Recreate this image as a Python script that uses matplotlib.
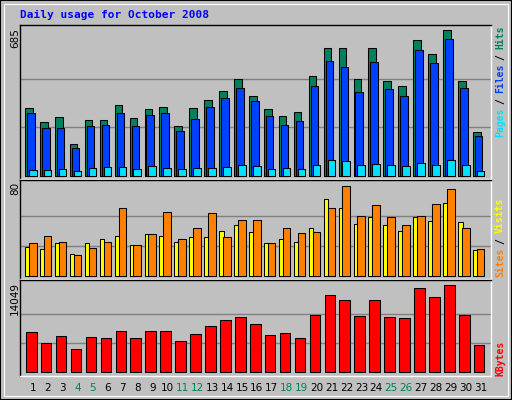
import numpy as np
import matplotlib.pyplot as plt
from matplotlib.patches import Rectangle

days = list(range(1, 32))
weekend = [4, 5, 11, 12, 18, 19, 25, 26]

hits = [318, 253, 276, 150, 262, 262, 332, 271, 313, 322, 234, 318, 355, 397, 453, 374,
        313, 281, 299, 467, 601, 601, 453, 601, 448, 420, 639, 574, 685, 448, 206]
files = [295, 225, 225, 132, 234, 239, 295, 234, 285, 295, 211, 267, 322, 364, 415, 350,
         281, 239, 257, 420, 541, 513, 392, 536, 406, 374, 592, 532, 643, 415, 188]
pages = [29, 29, 34, 25, 39, 43, 43, 34, 48, 39, 34, 39, 39, 43, 53, 48,
         34, 39, 34, 53, 76, 71, 53, 57, 53, 48, 62, 53, 76, 53, 25]
sites = [26, 24, 29, 20, 29, 33, 36, 28, 37, 36, 30, 35, 35, 40, 45, 39,
         29, 33, 30, 43, 68, 60, 46, 52, 45, 40, 52, 49, 65, 48, 23]
visits = [29, 36, 30, 19, 25, 30, 60, 28, 37, 57, 33, 43, 56, 35, 50, 50,
          29, 43, 38, 39, 60, 80, 53, 63, 52, 45, 53, 64, 77, 43, 24]
kbytes = [6490, 4630, 5870, 3710, 5720, 5410, 6640, 5560, 6640, 6640, 4940, 6180, 7410, 8340,
          8810, 7720, 6030, 6330, 5560, 9270, 12510, 11590, 9110, 11590, 8960, 8650, 13590,
          12050, 14049, 9270, 4330]

W, H = 512, 400
BG = '#C0C0C0'
fig = plt.figure(figsize=(W / 100, H / 100), dpi=100, facecolor=BG)
fig.patches.append(Rectangle((0, 0), 1, 1, transform=fig.transFigure, fill=False,
                             edgecolor='black', linewidth=1.5))
fig.patches.append(Rectangle((4 / W, 4 / H), (W - 8) / W, (H - 8) / H, transform=fig.transFigure,
                             fill=False, edgecolor='white', linewidth=0.8))

x = np.array(days)
lw = 0.75
font = 'DejaVu Sans Mono'


def panel(top, bottom, vmax, pad_top, pad_bot):
    ax = fig.add_axes([20 / W, 1 - bottom / H, 471 / W, (bottom - top) / H])
    ax.set_facecolor(BG)
    s = vmax / (bottom - top - pad_top - pad_bot)
    ax.set_ylim(-pad_bot * s, vmax + pad_top * s)
    ax.set_xlim(0.13, 31.68)
    for g in (vmax / 3, 2 * vmax / 3):
        ax.axhline(g, color='#808080', linewidth=1, zorder=0)
    ax.set_xticks([])
    ax.set_yticks([])
    for sp in ax.spines.values():
        sp.set_color('black')
        sp.set_linewidth(1)
    ax.spines['right'].set_color('white')
    ax.spines['bottom'].set_color('white')
    return ax


ax1 = panel(25, 179, 685, 5, 3)
ax1.bar(x - 0.53, hits, width=0.51, align='edge', color='#00805C', edgecolor='black', linewidth=lw)
ax1.bar(x - 0.40, files, width=0.51, align='edge', color='#0040FF', edgecolor='black', linewidth=lw)
ax1.bar(x - 0.27, pages, width=0.51, align='edge', color='#00E0FF', edgecolor='black', linewidth=lw)

ax2 = panel(180, 279, 80, 6, 3)
ax2.bar(x - 0.53, sites, width=0.31, align='edge', color='#FFFF00', edgecolor='black', linewidth=lw)
ax2.bar(x - 0.27, visits, width=0.51, align='edge', color='#FF8000', edgecolor='black', linewidth=lw)

ax3 = panel(280, 376, 14049, 5, 4)
ax3.bar(x - 0.47, kbytes, width=0.71, align='edge', color='#FF0000', edgecolor='black', linewidth=lw)

for d in days:
    ax3.text(d, -0.13, str(d), transform=ax3.get_xaxis_transform(), ha='center', va='center',
             fontsize=7.5, family='DejaVu Sans', color='#00805C' if d in weekend else 'black')

fig.text(20 / W, 1 - 15 / H, 'Daily usage for October 2008', color='#0000FF', fontsize=8,
         family=font, weight='bold', va='center')

for label, ytop in (('685', 28), ('80', 182), ('14049', 282)):
    fig.text(15 / W, 1 - ytop / H, label, rotation=90, fontsize=7.5, family='DejaVu Sans',
             ha='center', va='top')


def side_label(pieces, ybottom, step=5.5):
    n = 0
    for txt, col in pieces:
        fig.text(500 / W, 1 - (ybottom - n * step) / H, txt, rotation=90, color=col,
                 fontsize=7, family=font, weight='bold', ha='center', va='bottom')
        n += len(txt) + 1


side_label([('Pages', '#00E0FF'), ('/', 'black'), ('Files', '#0040FF'), ('/', 'black'),
            ('Hits', '#00805C')], 137)
side_label([('Sites', '#FF8000'), ('/', 'black'), ('Visits', '#FFFF00')], 277)
side_label([('KBytes', '#FF0000')], 376)

fig.savefig('out.png', dpi=100, facecolor=BG)
